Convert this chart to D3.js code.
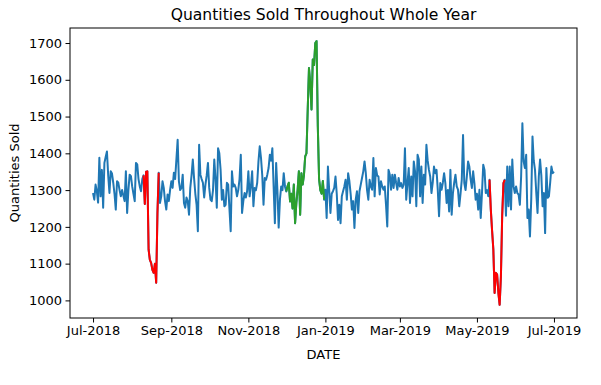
<!DOCTYPE html>
<html>
<head>
<meta charset="utf-8">
<script src="https://cdn.jsdelivr.net/npm/d3@7"></script>
<style>
  body { margin: 0; background: #fff; }
  text { font-family: "DejaVu Sans", sans-serif; }
</style>
</head>
<body>
<svg id="chart" width="601" height="385"></svg>
<script>
// daily quantities, one array per month, starting 2018-07-01
const startDate = "2018-07-01";
const jul2018 = [1292,1274,1315,1297,1266,1388,1283,1355,1252,1374,1390,1405,1340,1292,1351,1345,1320,1290,1247,1324,1320,1300,1283,1300,1285,1270,1351,1238,1300,1342,1338];
const aug2018 = [1310,1290,1270,1374,1370,1330,1310,1297,1330,1340,1262,1350,1351,1138,1110,1102,1083,1075,1100,1048,1238,1347,1265,1283,1324,1306,1270,1247,1288,1270,1300];
const sep2018 = [1324,1306,1347,1330,1383,1437,1324,1300,1306,1342,1265,1252,1280,1270,1233,1306,1340,1383,1333,1290,1260,1188,1423,1342,1330,1320,1280,1315,1340,1374];
const oct2018 = [1306,1274,1270,1300,1383,1330,1252,1414,1400,1356,1274,1300,1256,1260,1320,1315,1250,1188,1351,1310,1315,1306,1283,1300,1330,1396,1238,1270,1292,1280,1297];
const nov2018 = [1351,1283,1310,1351,1256,1306,1300,1320,1378,1419,1388,1340,1260,1333,1328,1342,1360,1396,1380,1414,1310,1210,1374,1300,1198,1274,1310,1300,1346,1310];
const dec2018 = [1296,1310,1320,1269,1290,1250,1315,1210,1265,1300,1351,1233,1346,1315,1340,1392,1400,1519,1632,1591,1519,1655,1640,1700,1705,1473,1330,1300,1290,1325,1274];
const jan2019 = [1301,1224,1364,1300,1238,1290,1297,1306,1337,1290,1219,1260,1210,1283,1297,1310,1328,1274,1346,1324,1290,1247,1270,1197,1274,1297,1238,1297,1315,1333,1351];
const feb2019 = [1378,1346,1300,1274,1328,1310,1301,1387,1283,1360,1340,1337,1288,1324,1310,1301,1310,1260,1201,1355,1342,1301,1342,1306,1342,1320,1301,1333];
const mar2019 = [1310,1319,1306,1315,1414,1274,1319,1360,1265,1337,1283,1378,1351,1256,1396,1383,1283,1364,1265,1342,1315,1423,1380,1355,1337,1292,1320,1364,1346,1355,1300];
const apr2019 = [1229,1319,1301,1320,1346,1319,1265,1300,1242,1355,1233,1292,1320,1342,1310,1301,1256,1290,1328,1450,1319,1300,1337,1378,1364,1330,1306,1351,1319,1274];
const may2019 = [1290,1247,1301,1224,1292,1369,1355,1292,1300,1283,1328,1247,1190,1138,1020,1075,1070,1020,988,1066,1230,1319,1328,1230,1364,1256,1364,1247,1383,1310,1292];
const jun2019 = [1310,1292,1288,1260,1337,1482,1378,1360,1396,1224,1247,1174,1274,1446,1380,1355,1292,1238,1337,1383,1340,1256,1292,1183,1360,1279,1283,1320,1364,1346];
const jul2019 = [1350];

// highlighted stretches
const highlightFrom  = ["2018-08-10", "2018-12-01", "2019-05-11"];
const highlightTo    = ["2018-08-22", "2018-12-31", "2019-05-23"];
const highlightColor = ["#ff0000", "#2ca02c", "#ff0000"];

const xTicks = ["2018-07-01","2018-09-01","2018-11-01","2019-01-01","2019-03-01","2019-05-01","2019-07-01"];
const yTicks = [1000, 1100, 1200, 1300, 1400, 1500, 1600, 1700];

const parse = d3.timeParse("%Y-%m-%d");
const start = parse(startDate);
const values = [].concat(jul2018, aug2018, sep2018, oct2018, nov2018, dec2018,
                         jan2019, feb2019, mar2019, apr2019, may2019, jun2019, jul2019);
const data = values.map((v, i) => ({ date: d3.timeDay.offset(start, i), qty: v }));

const margin = { top: 28, right: 24, bottom: 67, left: 70 };
const width = 601 - margin.left - margin.right;
const height = 385 - margin.top - margin.bottom;

// matplotlib style 5% padding
const xext = d3.extent(data, d => d.date);
const xpad = (xext[1] - xext[0]) * 0.05;
const x = d3.scaleTime()
  .domain([new Date(+xext[0] - xpad), new Date(+xext[1] + xpad)])
  .range([0, width]);

const yext = d3.extent(data, d => d.qty);
const ypad = (yext[1] - yext[0]) * 0.05;
const y = d3.scaleLinear()
  .domain([yext[0] - ypad, yext[1] + ypad])
  .range([height, 0]);

const svg = d3.select("#chart")
  .append("g")
  .attr("transform", `translate(${margin.left},${margin.top})`);

const line = d3.line()
  .x(d => x(d.date))
  .y(d => y(d.qty));

svg.append("path")
  .datum(data)
  .attr("fill", "none")
  .attr("stroke", "#1f77b4")
  .attr("stroke-width", 2)
  .attr("stroke-linejoin", "round")
  .attr("d", line);

highlightFrom.forEach((f, i) => {
  const a = parse(f), b = parse(highlightTo[i]);
  const part = data.filter(d => d.date >= a && d.date <= b);
  svg.append("path")
    .datum(part)
    .attr("fill", "none")
    .attr("stroke", highlightColor[i])
    .attr("stroke-width", 2)
    .attr("stroke-linejoin", "round")
    .attr("d", line);
});

// axes
const xAxis = svg.append("g")
  .attr("transform", `translate(0,${height})`)
  .call(d3.axisBottom(x)
    .tickValues(xTicks.map(parse))
    .tickFormat(d3.timeFormat("%b-%Y"))
    .tickSize(4.5)
    .tickPadding(3.5));

const yAxis = svg.append("g")
  .call(d3.axisLeft(y)
    .tickValues(yTicks)
    .tickFormat(d3.format("d"))
    .tickSize(4.5)
    .tickPadding(3.5));

[xAxis, yAxis].forEach(g => {
  g.select(".domain").remove();
  g.selectAll("text").attr("font-size", 13).attr("fill", "#000")
    .style("font-family", '"DejaVu Sans", sans-serif');
  g.selectAll("line").attr("stroke", "#000").attr("stroke-width", 1);
});

// frame
svg.append("rect")
  .attr("x", 0).attr("y", 0)
  .attr("width", width).attr("height", height)
  .attr("fill", "none")
  .attr("stroke", "#000")
  .attr("stroke-width", 1);

svg.append("text")
  .attr("x", width / 2)
  .attr("y", -8)
  .attr("text-anchor", "middle")
  .attr("font-size", 15.6)
  .text("Quantities Sold Throughout Whole Year");

svg.append("text")
  .attr("x", width / 2)
  .attr("y", height + 41)
  .attr("text-anchor", "middle")
  .attr("font-size", 13)
  .text("DATE");

svg.append("text")
  .attr("transform", "rotate(-90)")
  .attr("x", -height / 2)
  .attr("y", -51)
  .attr("text-anchor", "middle")
  .attr("font-size", 13)
  .text("Quantities Sold");
</script>
</body>
</html>
